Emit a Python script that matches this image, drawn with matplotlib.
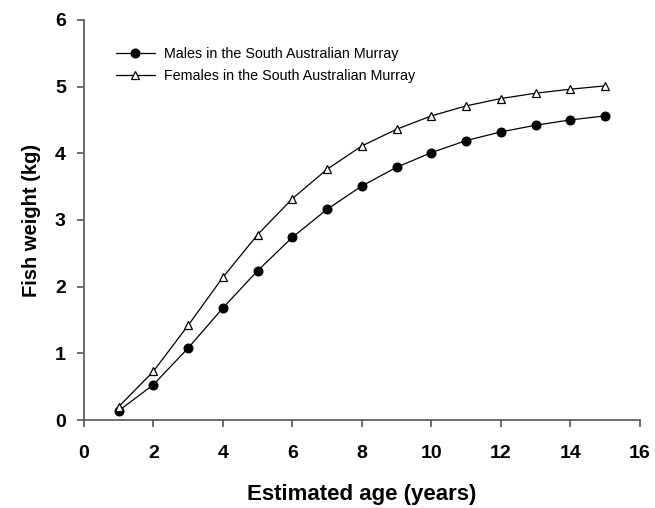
import matplotlib
matplotlib.use("Agg")
import matplotlib.pyplot as plt

plt.rcParams['font.family'] = ['Liberation Sans', 'DejaVu Sans']

# estimated age (years)
age = [1, 2, 3, 4, 5, 6, 7, 8, 9, 10, 11, 12, 13, 14, 15]
# fish weight (kg)
males = [0.14, 0.53, 1.08, 1.68, 2.24, 2.74, 3.16, 3.51, 3.79, 4.01, 4.19, 4.32, 4.42, 4.50, 4.56]
females = [0.20, 0.73, 1.42, 2.14, 2.78, 3.32, 3.76, 4.11, 4.36, 4.56, 4.71, 4.82, 4.90, 4.96, 5.01]

fig = plt.figure(figsize=(6.55, 5.08), dpi=100)
ax = fig.add_axes([0.128, 0.173, 0.849, 0.788])

ax.plot(age, males, "-o", color="black", lw=0.9, ms=6.2,
        markerfacecolor="black", label="Males in the South Australian Murray")
ax.plot(age, females, "-^", color="black", lw=0.9, ms=5.8,
        markerfacecolor="white", markeredgewidth=0.9,
        label="Females in the South Australian Murray")

ax.set_xlim(0, 16)
ax.set_ylim(0, 6)
ax.set_xticks(range(0, 17, 2))
ax.set_yticks(range(0, 7))

for side in ["top", "right"]:
    ax.spines[side].set_visible(False)
for side in ["left", "bottom"]:
    ax.spines[side].set_color("#555555")
    ax.spines[side].set_linewidth(1.2)

ax.tick_params(direction="out", length=5, width=1.2, color="#555555",
               labelsize=14)
ax.tick_params(axis="x", pad=13)
ax.tick_params(axis="y", pad=8)
for lab in ax.get_xticklabels() + ax.get_yticklabels():
    lab.set_fontweight("bold")

ax.set_xlabel("Estimated age (years)", fontsize=16, fontweight="bold", labelpad=16)
ax.set_ylabel("Fish weight (kg)", fontsize=14.5, fontweight="bold", labelpad=10)

ax.legend(loc="upper left", bbox_to_anchor=(0.047, 0.947), frameon=False,
          fontsize=10.3, handlelength=2.75, labelspacing=0.6,
          handletextpad=0.65, borderaxespad=0)

fig.savefig("out.png", dpi=100)
